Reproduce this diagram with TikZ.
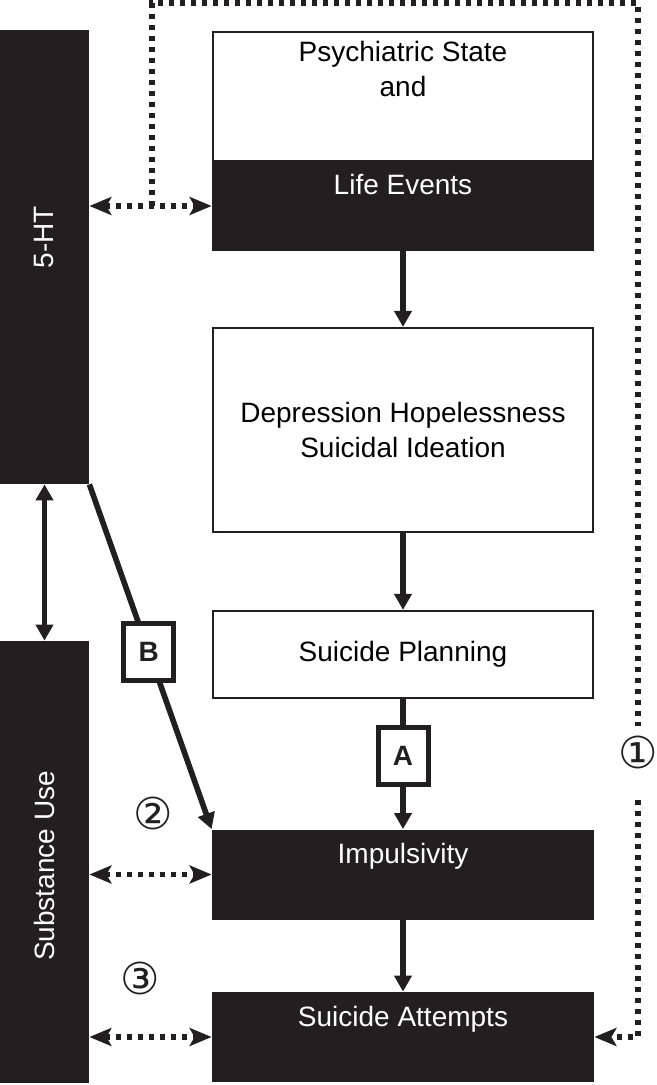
\documentclass[tikz,border=0pt]{standalone}
\usepackage{fontspec}
\setmainfont{Liberation Sans}
\newfontfamily\circfont{DejaVu Sans}
\usepackage{tikz}
\usetikzlibrary{arrows.meta}
\definecolor{boxblack}{RGB}{35,31,32}
\tikzset{
        boxnode/.style = {align=center, inner sep=0pt, text centered,
            font=\fontsize{14}{17.5}\selectfont},
        box_w/.style = {boxnode, rectangle, draw=boxblack, line width=1.1pt,
            fill=white, minimum width=190pt},
        box_b/.style = {boxnode, rectangle, fill=boxblack, text=white,
            minimum width=191pt, minimum height=45pt, text height=17pt, text depth=28pt},
        bar_b/.style = {boxnode, rectangle, fill=boxblack, text=white,
            minimum width=44.5pt},
        lbl_box/.style = {rectangle, draw=boxblack, line width=2.5pt, fill=white,
            minimum width=25pt, minimum height=28.5pt, inner sep=0pt,
            font=\fontsize{14}{17}\selectfont\bfseries, text=boxblack},
        circ_n/.style = {inner sep=0pt, text=boxblack,
            font=\circfont\fontsize{22}{22}\selectfont},
        solid_arr/.style = {draw=boxblack, line width=2.8pt,
            -{Triangle[length=8pt,width=8.5pt]}},
        solid_dbl/.style = {solid_arr,
            {Triangle[length=8pt,width=8.5pt]}-{Triangle[length=8pt,width=8.5pt]}},
        dot_line/.style = {draw=boxblack, line width=2.6pt,
            dash pattern=on 2.6pt off 2.9pt},
        dot_arr/.style = {dot_line,
            {Stealth[length=11pt,width=9pt,inset=2.5pt]}-{Stealth[length=11pt,width=9pt,inset=2.5pt]}},
        dot_end/.style = {dot_line, -{Stealth[length=11pt,width=9pt,inset=2.5pt]}}
    }
\begin{document}
\begin{tikzpicture}[x=0.5pt, y=-0.5pt]
    \useasboundingbox (0,0) rectangle (657,1085);
    % left bars
    \node [bar_b, minimum height=227pt] (ht) at (44.5,257) {\rotatebox{90}{\hspace{20pt}5-HT}};
    \node [bar_b, minimum height=221pt] (sub) at (44.5,862) {\rotatebox{90}{Substance Use\hspace{4pt}}};
    % main column
    \node [box_w, minimum height=64.5pt,
        label={[boxnode, anchor=north, yshift=-5pt]north:{Psychiatric State\\and}}] (psych) at (403,96.5) {};
    \node [box_b] (life) at (403,206) {Life Events};
    \node [box_w, minimum height=102pt] (depr) at (403,430) {Depression Hopelessness\\Suicidal Ideation};
    \node [box_w, minimum height=43.5pt] (plan) at (403,654.5) {Suicide Planning};
    \node [box_b] (imp) at (403,874.5) {Impulsivity};
    \node [box_b] (att) at (403,1037) {Suicide Attempts};

    \draw [solid_arr] (life) -- (depr);
    \draw [solid_arr] (depr) -- (plan);
    \draw [solid_arr] (plan) -- (imp) node [lbl_box, pos=0.44] (abox) {A};
    \draw [solid_arr] (imp) -- (att);
    \draw [solid_dbl] (ht) -- (sub);
    \draw [solid_arr] (ht.south east) -- (imp.north west) node [lbl_box, pos=0.485] (bbox) {B};

    \draw [dot_arr] (ht.east |- life.west) -- (life.west);
    \draw [dot_arr] (sub.east |- imp.west) -- (imp.west);
    \draw [dot_arr] (sub.east |- att.west) -- (att.west);

    % feedback loop
    \coordinate (loop_s) at (152,206);
    \coordinate (loop_c) at (638,3);
    \coordinate (loop_t) at (638,726);
    \coordinate (loop_b) at (638,800);
    \draw [dot_line] (loop_s) |- (loop_c) -- (loop_t);
    \draw [dot_end] (loop_b) |- (att.east);

    \node [circ_n] (num1) at (638,752) {①};
    \node [circ_n] (num2) at (153,813) {②};
    \node [circ_n] (num3) at (140,978) {③};
\end{tikzpicture}
\end{document}
